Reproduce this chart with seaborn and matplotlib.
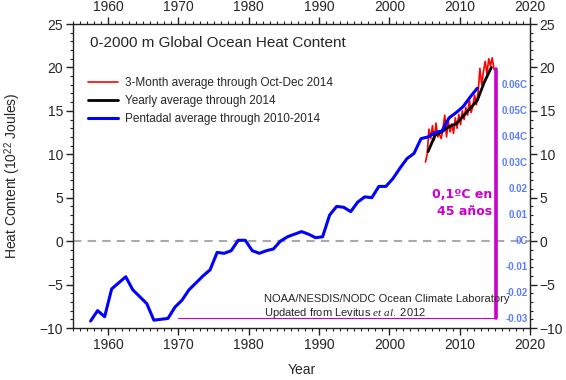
import numpy as np
import pandas as pd
import seaborn as sns
import matplotlib
matplotlib.use('Agg')
import matplotlib.pyplot as plt
from matplotlib.ticker import MultipleLocator

# pentadal (5-yr) averages, centred years
pent_years = np.arange(1957.5, 2013.0, 1.0)
pent_heat = [-9.2, -8.0, -8.7, -5.5, -4.8, -4.1, -5.6, -6.4, -7.2, -9.1,
             -9.0, -8.9, -7.6, -6.8, -5.6, -4.8, -4.0, -3.3, -1.3, -1.4,
             -1.1, 0.1, 0.1, -1.1, -1.4, -1.1, -0.9, 0.0, 0.5, 0.8,
             1.1, 0.8, 0.4, 0.5, 3.0, 4.0, 3.9, 3.4, 4.5, 5.1,
             5.0, 6.3, 6.3, 7.2, 8.4, 9.5, 10.1, 11.8, 12.0, 12.5,
             12.7, 14.2, 14.8, 15.5, 16.6, 17.6]

# yearly averages
year_years = np.arange(2005.5, 2015.0, 1.0)
year_heat = [10.3, 12.2, 12.6, 13.2, 13.5, 14.4, 15.3, 16.2, 18.3, 20.0]

# 3-month averages
q_years = np.arange(2005.125, 2015.0, 0.25)
q_heat = [9.1, 10.0, 12.9, 11.8, 13.3, 11.6, 13.6, 12.0, 12.3, 11.8,
          13.0, 14.5, 12.0, 13.8, 12.6, 13.5, 12.4, 14.2, 13.0, 14.6,
          13.4, 15.0, 14.0, 15.4, 14.5, 16.3, 14.8, 15.6, 16.8, 15.7,
          17.2, 19.9, 18.0, 19.5, 20.7, 19.2, 21.0, 20.2, 21.1, 19.8]

# temperature equivalents on the right
c_pos = [18, 15, 12, 9, 6, 3, 0, -3, -6, -9]
c_labels = ['0.06C', '0.05C', '0.04C', '0.03C', '0.02', '0.01', '0C',
            '-0.01', '-0.02', '-0.03']

bar_year = 2015.1
bar_lo, bar_hi = -8.8, 19.8
bar_start = 1970.0

df_pent = pd.DataFrame({'Year': pent_years, 'Heat': pent_heat})
df_year = pd.DataFrame({'Year': year_years, 'Heat': year_heat})
df_q = pd.DataFrame({'Year': q_years, 'Heat': q_heat})

sns.set_style('ticks')
plt.rcParams['font.family'] = ['Liberation Sans', 'DejaVu Sans']
plt.rcParams['mathtext.fontset'] = 'custom'
plt.rcParams['mathtext.rm'] = 'Liberation Sans'
plt.rcParams['mathtext.it'] = 'Liberation Serif:italic'

fig = plt.figure(figsize=(5.66, 3.80), dpi=100)
ax = fig.add_axes([73/566, 52/380, 457/566, 304/380])

ax.axhline(0, color='#aaaaaa', lw=1.5, ls=(0, (4, 3)), zorder=1)

sns.lineplot(data=df_q, x='Year', y='Heat', color='#ff0000', lw=1.2,
             label='3-Month average through Oct-Dec 2014', ax=ax)
sns.lineplot(data=df_year, x='Year', y='Heat', color='black', lw=2,
             label='Yearly average through 2014', ax=ax)
sns.lineplot(data=df_pent, x='Year', y='Heat', color='#0000ff', lw=2.2,
             label='Pentadal average through 2010-2014', ax=ax)

# magenta bracket
ax.plot([bar_start, bar_year], [bar_lo, bar_lo], color='#cc00cc', lw=0.8)
ax.plot([bar_year, bar_year], [bar_lo, bar_hi], color='#cc00cc', lw=2.6)
ax.text(2014.6, 4.4, '0,1ºC en\n45 años', color='#cc00cc', fontsize=9,
        fontweight='bold', family='DejaVu Sans', ha='right', va='center',
        linespacing=1.35)

for v, lab in zip(c_pos, c_labels):
    ax.text(2019.7, v, lab, color='#5a7dff', fontsize=7, fontweight='bold',
            ha='right', va='center')

ax.text(1957.4, 22.8, '0-2000 m Global Ocean Heat Content', fontsize=11,
        ha='left', va='center')
ax.text(1982.2, -6.65, 'NOAA/NESDIS/NODC Ocean Climate Laboratory',
        fontsize=8, ha='left', va='center')
ax.text(1982.2, -8.25, r'Updated from Levitus $et\ al.$ 2012',
        fontsize=8, ha='left', va='center')

ax.legend(loc='upper left', bbox_to_anchor=(0.033, 0.825), frameon=False,
          fontsize=8.5, handlelength=2.5, handletextpad=0.6, labelspacing=0.5,
          borderpad=0, borderaxespad=0)

ax.set_xlim(1955, 2020)
ax.set_ylim(-10, 25)
ax.xaxis.set_major_locator(MultipleLocator(10))
ax.xaxis.set_minor_locator(MultipleLocator(1))
ax.yaxis.set_major_locator(MultipleLocator(5))
ax.yaxis.set_minor_locator(MultipleLocator(1))
ax.tick_params(which='both', direction='out', top=True, right=True,
               labeltop=True, labelright=True, labelsize=10, color='#222222',
               pad=2)
ax.tick_params(which='major', length=5, width=1)
ax.tick_params(which='minor', length=2.5, width=0.8)
for s in ax.spines.values():
    s.set_color('#222222')
    s.set_linewidth(1)

ax.set_xlabel('Year', fontsize=10, labelpad=8)
ax.set_ylabel('Heat Content (10$^{22}$ Joules)', fontsize=10, labelpad=12)

fig.savefig('out.png', dpi=100)
